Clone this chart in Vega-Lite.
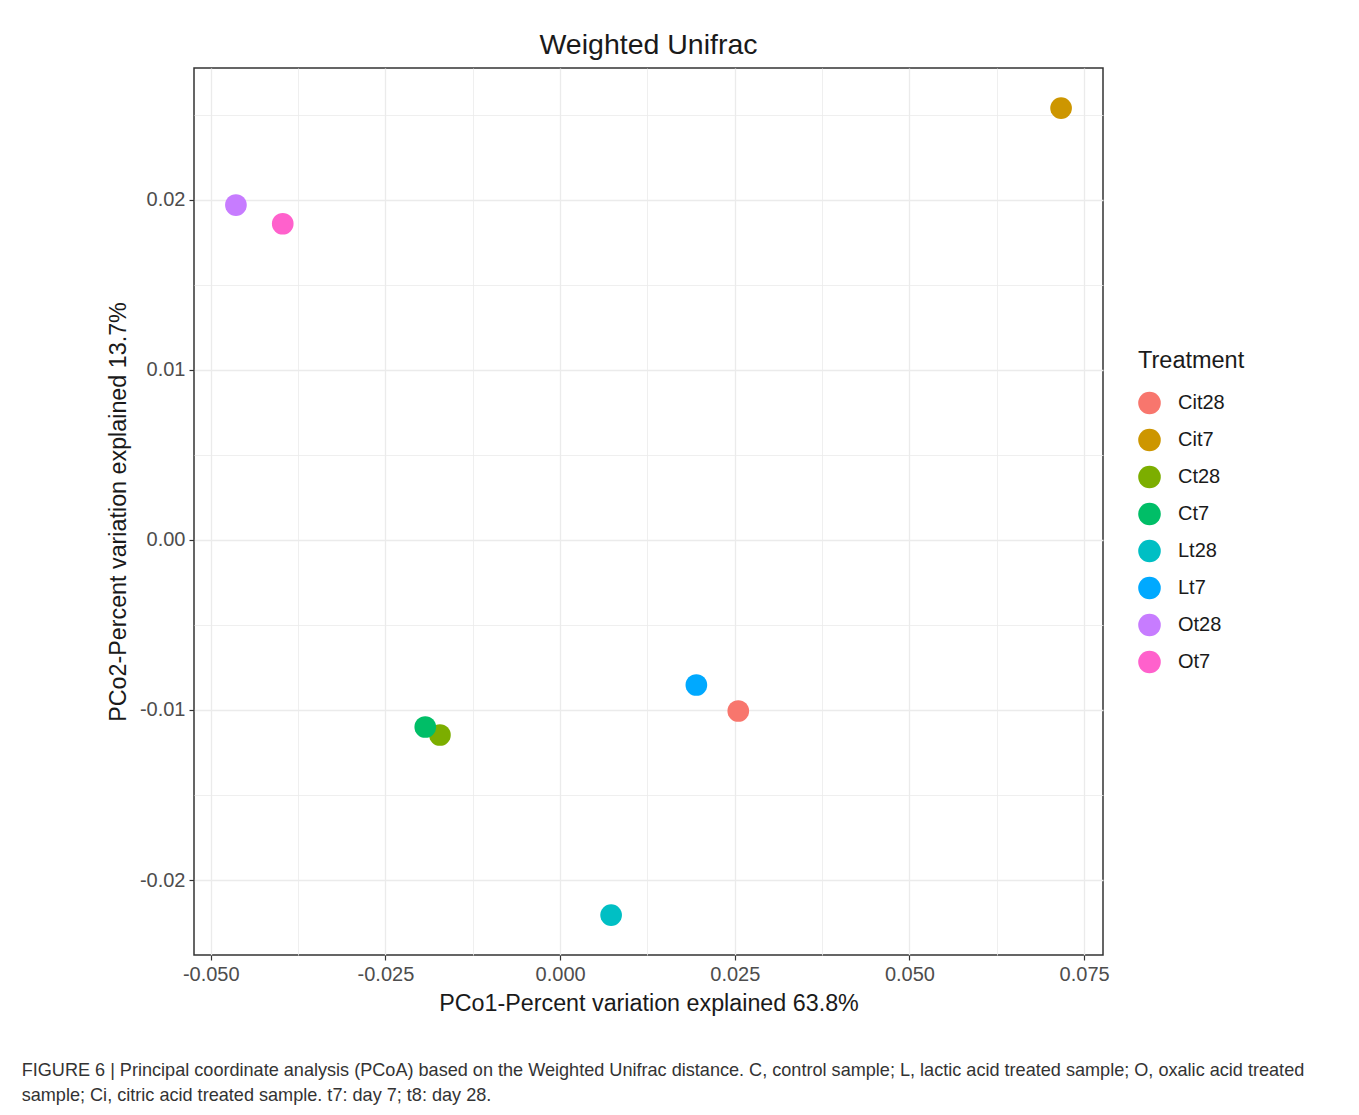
{
  "$schema": "https://vega.github.io/schema/vega-lite/v6.json",
  "background": "white",
  "padding": {"left": 21, "top": 29, "right": 10, "bottom": 10},
  "title": {
    "text": ["FIGURE 6 | Principal coordinate analysis (PCoA) based on the Weighted Unifrac distance. C, control sample; L, lactic acid treated sample; O, oxalic acid treated", "sample; Ci, citric acid treated sample. t7: day 7; t8: day 28."],
    "orient": "bottom",
    "anchor": "start",
    "font": "Liberation Sans",
    "fontSize": 18.1,
    "fontWeight": "normal",
    "color": "#333333",
    "lineHeight": 25,
    "offset": 47,
    "dx": -84
  },
  "vconcat": [
    {
      "title": {"text": "Weighted Unifrac", "font": "Liberation Sans", "fontSize": 28.5, "fontWeight": "normal", "color": "#1a1a1a", "offset": 9, "anchor": "middle"},
      "width": 909,
      "height": 887,
      "data": {"values": [
        {"Treatment": "Cit28", "PCo1": 0.0255, "PCo2": -0.01006},
        {"Treatment": "Cit7", "PCo1": 0.0717, "PCo2": 0.0254},
        {"Treatment": "Ct28", "PCo1": -0.0172, "PCo2": -0.01147},
        {"Treatment": "Ct7", "PCo1": -0.0193, "PCo2": -0.0110},
        {"Treatment": "Lt28", "PCo1": 0.0073, "PCo2": -0.02206},
        {"Treatment": "Lt7", "PCo1": 0.0195, "PCo2": -0.00853},
        {"Treatment": "Ot28", "PCo1": -0.0464, "PCo2": 0.0197},
        {"Treatment": "Ot7", "PCo1": -0.0397, "PCo2": 0.0186}
      ]},
      "mark": {"type": "circle", "size": 470, "opacity": 1},
      "encoding": {
        "x": {
          "field": "PCo1", "type": "quantitative",
          "scale": {"domain": [-0.0524, 0.0777], "nice": false, "zero": false},
          "axis": {
            "title": "PCo1-Percent variation explained 63.8%",
            "values": [-0.05, -0.0375, -0.025, -0.0125, 0, 0.0125, 0.025, 0.0375, 0.05, 0.0625, 0.075],
            "labelExpr": "abs(datum.value/0.025 - round(datum.value/0.025)) < 0.01 ? replace(format(datum.value, '.3f'), '\u2212', '-') : ''",
            "tickOpacity": {"condition": {"test": "abs(datum.value/0.025 - round(datum.value/0.025)) < 0.01", "value": 1}, "value": 0},
            "gridWidth": {"condition": {"test": "abs(datum.value/0.025 - round(datum.value/0.025)) < 0.01", "value": 1.3}, "value": 0.8}
          }
        },
        "y": {
          "field": "PCo2", "type": "quantitative",
          "scale": {"domain": [-0.02441, 0.02776], "nice": false, "zero": false},
          "axis": {
            "title": "PCo2-Percent variation explained 13.7%",
            "values": [-0.02, -0.015, -0.01, -0.005, 0, 0.005, 0.01, 0.015, 0.02, 0.025],
            "labelExpr": "abs(datum.value/0.01 - round(datum.value/0.01)) < 0.01 ? replace(format(datum.value, '.2f'), '\u2212', '-') : ''",
            "tickOpacity": {"condition": {"test": "abs(datum.value/0.01 - round(datum.value/0.01)) < 0.01", "value": 1}, "value": 0},
            "gridWidth": {"condition": {"test": "abs(datum.value/0.01 - round(datum.value/0.01)) < 0.01", "value": 1.3}, "value": 0.8}
          }
        },
        "color": {
          "field": "Treatment", "type": "nominal",
          "scale": {
            "domain": ["Cit28", "Cit7", "Ct28", "Ct7", "Lt28", "Lt7", "Ot28", "Ot7"],
            "range": ["#F8766D", "#CD9600", "#7CAE00", "#00BE67", "#00BFC4", "#00A9FF", "#C77CFF", "#FF61CC"]
          },
          "legend": {
            "title": "Treatment",
            "orient": "none",
            "legendX": 944,
            "legendY": 281,
            "titleFont": "Liberation Sans",
            "titleFontSize": 23.5,
            "titleFontWeight": "normal",
            "titleColor": "#1a1a1a",
            "titlePadding": 19,
            "labelFont": "Liberation Sans",
            "labelFontSize": 20,
            "labelColor": "#1a1a1a",
            "labelOffset": 17,
            "symbolType": "circle",
            "symbolSize": 510,
            "symbolStrokeWidth": 0,
            "symbolOpacity": 1,
            "rowPadding": 14,
            "padding": 0
          }
        }
      }
    }
  ],
  "config": {
    "view": {"stroke": "#333333", "strokeWidth": 1.5},
    "axis": {
      "domain": false,
      "grid": true,
      "gridColor": "#EBEBEB",
      "tickColor": "#333333",
      "tickSize": 5,
      "tickWidth": 1.2,
      "labelFont": "Liberation Sans",
      "labelFontSize": 20,
      "labelColor": "#4D4D4D",
      "labelPadding": 4,
      "titleFont": "Liberation Sans",
      "titleFontSize": 23.3,
      "titleFontWeight": "normal",
      "titleColor": "#1a1a1a"
    },
    "axisX": {"titlePadding": 8},
    "axisY": {"titlePadding": 9}
  }
}
